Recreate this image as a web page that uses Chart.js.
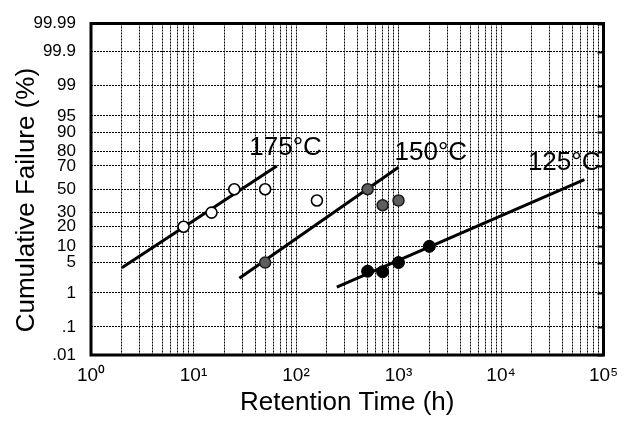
<!DOCTYPE html>
<html><head><meta charset="utf-8">
<script src="https://cdn.jsdelivr.net/npm/chart.js@4/dist/chart.umd.min.js"></script>
<style>html,body{margin:0;padding:0;background:#fff}canvas{display:block}</style>
</head><body>
<canvas id="c" width="631" height="423"></canvas>
<script>
// ---- data ----
const xTickHours = [1, 10, 100, 1000, 10000, 100000];
const xTickLabels = ['10⁰', '10¹', '10²', '10³', '10⁴', '10⁵'];
const yTickPct = [0.01, 0.1, 1, 5, 10, 20, 30, 50, 70, 80, 90, 95, 99, 99.9, 99.99];
const yTickLabels = ['.01', '.1', '1', '5', '10', '20', '30', '50', '70', '80', '90', '95', '99', '99.9', '99.99'];
const seriesNames = ['175°C', '150°C', '125°C'];

const hours175 = [8, 15, 25, 50, 160];
const pct175 = [20, 30, 50, 50, 40];
const hours150 = [50, 500, 700, 1000];
const pct150 = [5, 50, 36, 40];
const hours125 = [500, 700, 1000, 2000];
const pct125 = [3.3, 3.2, 5, 10];

const fitHours175 = [2, 65];
const fitPct175 = [3.9, 70];
const fitHours150 = [28, 1000];
const fitPct150 = [2.3, 69];
const fitHours125 = [250, 65000];
const fitPct125 = [1.4, 58.5];

const labelHours = [35, 915, 18300];
const labelPct = [82.4, 79.4, 72.6];

// ---- helpers ----
const FONT = "'Liberation Sans', Arial, Helvetica, sans-serif";
function probit(p) {
  const a = [-3.969683028665376e+01, 2.209460984245205e+02, -2.759285104469687e+02, 1.383577518672690e+02, -3.066479806614716e+01, 2.506628277459239e+00];
  const b = [-5.447609879822406e+01, 1.615858368580409e+02, -1.556989798598866e+02, 6.680131188771972e+01, -1.328068155288572e+01];
  const c = [-7.784894002430293e-03, -3.223964580411365e-01, -2.400758277161838e+00, -2.549671010466111e+00, 4.374664141464968e+00, 2.938163982698783e+00];
  const d = [7.784695709041462e-03, 3.224671290700398e-01, 2.445134137142996e+00, 3.754408661907416e+00];
  const pl = 0.02425, ph = 1 - pl;
  let q, r;
  if (p < pl) {
    q = Math.sqrt(-2 * Math.log(p));
    return (((((c[0]*q+c[1])*q+c[2])*q+c[3])*q+c[4])*q+c[5]) / ((((d[0]*q+d[1])*q+d[2])*q+d[3])*q+1);
  }
  if (p <= ph) {
    q = p - 0.5; r = q*q;
    return (((((a[0]*r+a[1])*r+a[2])*r+a[3])*r+a[4])*r+a[5])*q / (((((b[0]*r+b[1])*r+b[2])*r+b[3])*r+b[4])*r+1);
  }
  q = Math.sqrt(-2 * Math.log(1 - p));
  return -(((((c[0]*q+c[1])*q+c[2])*q+c[3])*q+c[4])*q+c[5]) / ((((d[0]*q+d[1])*q+d[2])*q+d[3])*q+1);
}
function normcdf(z) {
  const t = 1 / (1 + 0.2316419 * Math.abs(z));
  const dd = 0.3989423 * Math.exp(-z*z/2);
  const pr = dd * t * (0.3193815 + t*(-0.3565638 + t*(1.781478 + t*(-1.821256 + t*1.330274))));
  return z > 0 ? 1 - pr : pr;
}

class ProbitScale extends Chart.Scale {
  static id = 'probit';
  static defaults = {};
  determineDataLimits() { this.min = this.options.min; this.max = this.options.max; }
  buildTicks() { return yTickPct.map(v => ({ value: v })); }
  configure() {
    super.configure();
    this._zs = probit(this.min / 100);
    this._ze = probit(this.max / 100);
  }
  getPixelForValue(v) {
    if (v === null || v === undefined || isNaN(v)) return NaN;
    const z = probit(v / 100);
    return this.getPixelForDecimal((z - this._zs) / (this._ze - this._zs));
  }
  getValueForPixel(px) {
    const dec = this.getDecimalForPixel(px);
    return 100 * normcdf(this._zs + dec * (this._ze - this._zs));
  }
  getLabelForValue(v) { return String(v); }
}
Chart.register(ProbitScale);

const pts = (xs, ys) => xs.map((x, i) => ({ x: x, y: ys[i] }));

const framePlugin = {
  id: 'frame',
  beforeDatasetsDraw(chart) {
    const { ctx, chartArea: a, scales: { y } } = chart;
    ctx.save();
    ctx.strokeStyle = '#000';
    // small inward marks on the right edge
    ctx.lineWidth = 2;
    y.ticks.forEach(t => {
      const py = Math.round(y.getPixelForValue(t.value)) + 0.5;
      ctx.beginPath(); ctx.moveTo(a.right - 6, py); ctx.lineTo(a.right, py); ctx.stroke();
    });
    ctx.lineWidth = 3;
    ctx.strokeRect(a.left, a.top, a.right - a.left, a.bottom - a.top);
    ctx.restore();
  }
};
const labelPlugin = {
  id: 'tempLabels',
  afterDatasetsDraw(chart) {
    const { ctx, scales: { x, y } } = chart;
    ctx.save();
    ctx.font = '26px ' + FONT;
    ctx.fillStyle = '#000';
    ctx.textAlign = 'left';
    ctx.textBaseline = 'middle';
    seriesNames.forEach((t, i) => ctx.fillText(t, x.getPixelForValue(labelHours[i]), y.getPixelForValue(labelPct[i])));
    ctx.restore();
  }
};

const xGrid = [];
for (let dec = 1; dec < 100000; dec *= 10) for (let m = 1; m < 10; m++) xGrid.push(m * dec);
xGrid.push(100000);

new Chart(document.getElementById('c'), {
  type: 'scatter',
  data: {
    datasets: [
      { label: seriesNames[0], data: pts(hours175, pct175), pointRadius: 5.5, pointBackgroundColor: '#fff', pointBorderColor: '#000', pointBorderWidth: 1.6 },
      { label: seriesNames[1], data: pts(hours150, pct150), pointRadius: 5.5, pointBackgroundColor: '#5e5e5e', pointBorderColor: '#1a1a1a', pointBorderWidth: 1.5 },
      { label: seriesNames[2], data: pts(hours125, pct125), pointRadius: 6, pointBackgroundColor: '#000', pointBorderColor: '#000', pointBorderWidth: 1 },
      { label: seriesNames[0] + ' fit', data: pts(fitHours175, fitPct175), showLine: true, pointRadius: 0, borderColor: '#000', borderWidth: 3 },
      { label: seriesNames[1] + ' fit', data: pts(fitHours150, fitPct150), showLine: true, pointRadius: 0, borderColor: '#000', borderWidth: 3 },
      { label: seriesNames[2] + ' fit', data: pts(fitHours125, fitPct125), showLine: true, pointRadius: 0, borderColor: '#000', borderWidth: 3 }
    ]
  },
  options: {
    responsive: false,
    animation: false,
    devicePixelRatio: 1,
    layout: { padding: { top: 15, right: 27.5, left: 0, bottom: 0 } },
    plugins: { legend: { display: false }, tooltip: { enabled: false } },
    scales: {
      x: {
        type: 'logarithmic',
        min: 1, max: 100000,
        afterBuildTicks: (s) => { s.ticks = xGrid.map(v => ({ value: v })); },
        afterFit: (s) => { s.height = 68; },
        grid: { color: '#000', lineWidth: 1, drawTicks: false },
        border: { display: false, dash: [2, 1] },
        ticks: {
          autoSkip: false, maxRotation: 0, padding: 9, color: '#000',
          font: { family: FONT, size: 19 },
          callback: (v) => { const i = xTickHours.indexOf(v); return i >= 0 ? xTickLabels[i] : ''; }
        },
        title: { display: true, text: 'Retention Time (h)', color: '#000', font: { family: FONT, size: 26 }, padding: { top: 0, bottom: 5 } }
      },
      y: {
        type: 'probit',
        min: 0.01, max: 99.99,
        afterFit: (s) => { s.width = 91; },
        grid: { color: '#000', lineWidth: 1, drawTicks: false },
        border: { display: false, dash: [2, 1] },
        ticks: {
          autoSkip: false, padding: 15, color: '#000',
          font: { family: FONT, size: 17, lineHeight: 1 },
          callback: (v, i) => yTickLabels[i]
        },
        title: { display: true, text: 'Cumulative Failure (%)   ', color: '#000', font: { family: FONT, size: 26 }, padding: { top: 11, bottom: 0 } }
      }
    }
  },
  plugins: [framePlugin, labelPlugin]
});
</script>
</body></html>
